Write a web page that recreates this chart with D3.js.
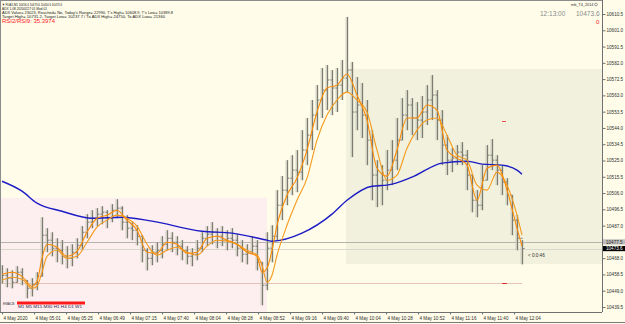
<!DOCTYPE html>
<html>
<head>
<meta charset="utf-8">
<script src="https://cdn.jsdelivr.net/npm/d3@7"></script>
<style>
  html, body { margin: 0; padding: 0; background: #fffdea; }
  svg { display: block; font-family: "Liberation Sans", Arial, sans-serif; }
</style>
</head>
<body>
<div id="chart"></div>
<script>
const width = 625;
const height = 324;

// bar data, one bar per slot
const barHigh = [10463.9,10462.1,10460.9,10463.3,10462.1,10455.1,10456.3,10459.8,10491.9,10485.5,
  10483.1,10479.6,10478.5,10475.0,10476.1,10479.6,10486.7,10493.7,10496.0,10497.2,
  10498.3,10496.0,10499.5,10502.4,10498.3,10493.1,10489.0,10487.2,10481.4,10473.8,
  10475.5,10477.3,10480.8,10484.3,10483.1,10480.8,10478.5,10475.0,10473.8,10478.5,
  10483.1,10486.7,10489.0,10485.5,10486.7,10484.3,10485.5,10482.0,10478.5,10476.1,
  10480.8,10478.5,10465.6,10483.1,10487.2,10507.7,10515.9,10525.2,10528.1,10531.1,
  10542.7,10549.8,10560.3,10569.0,10579.0,10580.7,10577.8,10579.0,10583.6,10608.8,
  10582.5,10573.7,10570.2,10560.3,10542.7,10525.2,10522.3,10531.1,10536.9,10549.8,
  10561.4,10566.1,10561.4,10559.1,10562.6,10569.0,10574.9,10566.1,10554.4,10539.8,
  10532.2,10534.0,10535.7,10531.1,10516.5,10507.7,10522.3,10534.0,10537.5,10528.1,
  10522.3,10514.7,10504.8,10493.1,10478.5];
const barLow = [10453.3,10451.0,10450.4,10453.9,10452.2,10444.6,10445.7,10449.3,10457.4,10471.5,
  10469.1,10465.6,10464.4,10462.1,10463.3,10467.9,10472.6,10479.6,10485.5,10486.7,
  10487.8,10485.5,10489.0,10491.3,10484.3,10479.6,10478.5,10475.5,10465.6,10460.9,
  10463.9,10465.6,10467.9,10472.6,10471.5,10469.7,10466.8,10464.4,10463.3,10466.8,
  10471.5,10475.0,10476.1,10473.8,10475.0,10472.6,10473.8,10469.1,10465.6,10464.4,
  10470.3,10460.9,10440.5,10449.3,10465.6,10478.5,10490.2,10498.9,10504.8,10506.5,
  10513.5,10522.3,10531.1,10542.7,10549.8,10554.4,10551.5,10553.3,10560.3,10564.9,
  10527.0,10542.7,10538.1,10522.3,10501.8,10497.8,10498.9,10507.7,10510.6,10519.4,
  10536.9,10542.7,10539.8,10536.9,10538.1,10545.7,10548.6,10536.9,10522.3,10516.5,
  10518.2,10522.3,10522.3,10507.7,10494.8,10491.9,10496.0,10513.5,10519.4,10510.6,
  10504.8,10498.9,10481.4,10472.6,10464.4];
const barClose = [10458.0,10456.3,10453.9,10459.8,10455.1,10450.4,10452.8,10457.4,10481.4,10478.5,
  10473.8,10472.6,10469.1,10467.9,10471.5,10475.5,10483.1,10489.0,10491.3,10493.7,
  10494.8,10491.3,10496.0,10497.2,10489.0,10485.5,10484.3,10480.8,10472.6,10467.9,
  10471.5,10472.6,10476.1,10479.6,10477.3,10475.0,10472.6,10469.1,10470.3,10473.8,
  10479.6,10482.0,10483.1,10480.8,10478.5,10479.6,10478.5,10473.8,10470.3,10471.5,
  10475.0,10465.6,10452.2,10473.8,10480.8,10498.9,10507.7,10514.7,10519.4,10518.2,
  10531.1,10539.8,10551.5,10560.3,10566.1,10572.0,10567.3,10569.0,10573.1,10577.8,
  10553.3,10557.4,10551.5,10536.9,10516.5,10510.6,10513.5,10519.4,10525.2,10536.9,
  10551.5,10557.4,10549.8,10548.6,10553.3,10560.3,10563.2,10548.6,10534.0,10525.2,
  10526.4,10529.9,10528.1,10516.5,10501.8,10498.9,10513.5,10528.1,10525.2,10519.4,
  10512.4,10504.8,10490.2,10479.6,10473.6];

// moving averages, read at these bar slots
const emaIdx = [0,2,4,6,7,8,9,11,13,15,17,19,21,23,25,27,29,31,33,35,37,39,41,43,45,47,49,51,52,53,
  54,55,57,59,61,63,65,67,69,71,73,75,77,79,81,83,85,87,89,91,93,95,97,99,101,103,104];
const emaFast = [10458.6,10459.8,10457.4,10451.6,10454.5,10467.9,10476.1,10474.4,10469.1,10472.0,
  10483.1,10491.3,10493.1,10496.0,10490.2,10484.3,10471.5,10470.9,10477.3,10476.1,
  10470.9,10471.5,10479.6,10480.8,10478.5,10476.1,10471.5,10469.1,10459.8,10462.1,
  10472.6,10487.2,10504.8,10514.7,10531.1,10553.3,10567.3,10569.0,10575.5,10563.2,
  10548.6,10520.5,10515.9,10531.1,10549.8,10549.8,10557.4,10554.4,10531.1,10526.4,
  10522.3,10501.8,10520.5,10522.3,10507.7,10485.5,10475.0];
const emaSlow = [10455.1,10456.9,10455.7,10450.4,10451.6,10459.8,10469.1,10472.6,10467.9,10469.1,
  10477.3,10486.1,10490.2,10493.1,10491.3,10486.7,10476.1,10469.7,10472.6,10474.4,
  10471.5,10469.7,10475.0,10478.5,10477.9,10476.1,10472.6,10469.7,10463.9,10453.9,
  10458.0,10469.7,10487.2,10501.8,10514.7,10536.9,10551.5,10560.3,10564.9,10560.3,
  10553.3,10531.1,10513.5,10516.5,10532.2,10542.7,10548.6,10549.8,10539.8,10528.1,
  10525.2,10510.6,10507.7,10518.2,10510.6,10493.1,10481.4];

const maIdx = [0,4,7,12,18,24,30,40,46,53,54,60,66,69,74,77,82,88,93,96,100,103,104];
const maSlow = [10512.9,10507.1,10500.1,10495.4,10491.3,10491.9,10489.6,10483.7,10482.6,10478.5,
  10477.9,10482.6,10493.7,10501.8,10510.0,10510.6,10515.3,10523.5,10524.6,10522.9,
  10522.3,10519.4,10517.0];

// price axis
const priceTicks = [10610.5,10601.0,10591.5,10582.0,10572.5,10563.0,10553.5,10544.0,10534.5,10525.0,
  10515.5,10506.0,10496.5,10487.0,10468.0,10458.5,10449.0,10439.5];
const bidPrice = 10477.5;
const lastPrice = 10473.6;
const lowLine = 10453.3;

// time axis
const timeIdx = [0,6.4,12.8,19.2,25.6,32,38.4,44.8,51.2,57.6,64,70.4,76.8,83.2,89.6,96,102.4];
const timeLabels = ['4 May 2020','4 May 05:01','4 May 05:25','4 May 06:49','4 May 07:15','4 May 07:40',
  '4 May 08:04','4 May 08:28','4 May 08:52','4 May 09:16','4 May 09:40','4 May 10:04','4 May 10:28',
  '4 May 10:52','4 May 11:16','4 May 11:40','4 May 12:04'];

const infoLines = [
  '\u25BC FDAX,M1  10456.4 10473.6 10454.6 10473.6',
  'ADX 1.08 20200227 01 Mod 01',
  "ADX Value= 23023, Reached= No, Today's Range= 22990, T's High= 10608.9, T's Low= 10389.8",
  'Target High= 10731.2, Target Low= 10237.7 / To ADX High= 24750, To ADX Low= 21360'
];
const infoWidths = [60, 45, 171, 163];

const plotRight = 602;
const plotBottom = 312;

const x = d3.scaleLinear().domain([0, 104]).range([2, 522]);
const y = d3.scaleLinear().domain([10439.5, 10610.5]).range([307, 14]);

const svg = d3.select('#chart').append('svg')
  .attr('width', width)
  .attr('height', height);

svg.append('rect')
  .attr('width', width).attr('height', height)
  .attr('fill', '#fffdea');

// zones
svg.append('rect')
  .attr('x', 0).attr('y', 198)
  .attr('width', 267).attr('height', plotBottom - 198)
  .attr('fill', '#fdeef0');

svg.append('rect')
  .attr('x', 346).attr('y', 69)
  .attr('width', plotRight - 346).attr('height', 264 - 69)
  .attr('fill', '#f1f1dd');

// horizontal levels
svg.append('line')
  .attr('x1', 0).attr('x2', plotRight)
  .attr('y1', Math.round(y(bidPrice)) + 0.5).attr('y2', Math.round(y(bidPrice)) + 0.5)
  .attr('stroke', '#b4b4aa');

svg.append('line')
  .attr('x1', 0).attr('x2', plotRight)
  .attr('y1', Math.round(y(lastPrice)) + 0.5).attr('y2', Math.round(y(lastPrice)) + 0.5)
  .attr('stroke', '#d8d8cc');

svg.append('line')
  .attr('x1', 0).attr('x2', x(104))
  .attr('y1', Math.round(y(lowLine)) + 0.5).attr('y2', Math.round(y(lowLine)) + 0.5)
  .attr('stroke', '#e6c3b4');

// red marks
svg.append('line').attr('x1', 502).attr('x2', 506).attr('y1', 121.5).attr('y2', 121.5)
  .attr('stroke', '#f05050');
svg.append('line').attr('x1', 502).attr('x2', 507).attr('y1', Math.round(y(lowLine)) + 0.5)
  .attr('y2', Math.round(y(lowLine)) + 0.5).attr('stroke', '#e03030');

// bars
const bars = svg.append('g');
const idx = d3.range(barHigh.length);

bars.selectAll('.bar-body')
  .data(idx)
  .join('rect')
  .attr('class', 'bar-body')
  .attr('x', i => x(i) - 1.5)
  .attr('width', 3)
  .attr('y', i => y(barHigh[i]))
  .attr('height', i => y(barLow[i]) - y(barHigh[i]))
  .attr('fill', '#c4c4b6')
  .attr('opacity', 0.75);

bars.selectAll('.bar-line')
  .data(idx)
  .join('line')
  .attr('class', 'bar-line')
  .attr('x1', i => Math.round(x(i)) + 0.5)
  .attr('x2', i => Math.round(x(i)) + 0.5)
  .attr('y1', i => y(barHigh[i]))
  .attr('y2', i => y(barLow[i]))
  .attr('stroke', '#7c7c72');

bars.selectAll('.bar-open')
  .data(idx.slice(1))
  .join('line')
  .attr('class', 'bar-open')
  .attr('x1', i => Math.round(x(i)) - 1.5)
  .attr('x2', i => Math.round(x(i)) + 0.5)
  .attr('y1', i => y(barClose[i - 1]))
  .attr('y2', i => y(barClose[i - 1]))
  .attr('stroke', '#7c7c72');

bars.selectAll('.bar-close')
  .data(idx)
  .join('line')
  .attr('class', 'bar-close')
  .attr('x1', i => Math.round(x(i)) + 0.5)
  .attr('x2', i => Math.round(x(i)) + 2.5)
  .attr('y1', i => y(barClose[i]))
  .attr('y2', i => y(barClose[i]))
  .attr('stroke', '#7c7c72');

// moving averages
const lineOf = (ix, vals) => d3.line()
  .curve(d3.curveMonotoneX)
  .x((d, k) => x(ix[k]))
  .y(d => y(d))(vals);

svg.append('path')
  .attr('d', lineOf(maIdx, maSlow))
  .attr('fill', 'none')
  .attr('stroke', '#1c1cc4')
  .attr('stroke-width', 1.4);

svg.append('path')
  .attr('d', lineOf(emaIdx, emaSlow))
  .attr('fill', 'none')
  .attr('stroke', '#f59a1a')
  .attr('stroke-width', 1.1);

svg.append('path')
  .attr('d', lineOf(emaIdx, emaFast))
  .attr('fill', 'none')
  .attr('stroke', '#ff8c00')
  .attr('stroke-width', 1.1);

// frame
svg.append('line').attr('x1', 0).attr('x2', plotRight).attr('y1', 0.5).attr('y2', 0.5)
  .attr('stroke', '#8c8c8c');
svg.append('line').attr('x1', 0.5).attr('x2', 0.5).attr('y1', 0).attr('y2', plotBottom)
  .attr('stroke', '#8c8c8c');
svg.append('line').attr('x1', 0).attr('x2', width).attr('y1', 322.5).attr('y2', 322.5)
  .attr('stroke', '#7a7a7a');

// price axis
const yAxis = svg.append('g')
  .attr('transform', `translate(${plotRight + 0.5},0)`)
  .call(d3.axisRight(y).tickValues(priceTicks).tickSize(3).tickPadding(1)
    .tickFormat(d3.format('.1f')));
yAxis.select('.domain').attr('stroke', '#707070').attr('d', `M0,0V${plotBottom}`);
yAxis.selectAll('.tick line').attr('stroke', '#707070');
yAxis.selectAll('text')
  .attr('font-size', 4.6)
  .attr('fill', '#303030')
  .attr('font-family', '"Liberation Sans", Arial, sans-serif');

// price tags
const tag = (price, bg, fg) => {
  const yy = y(price);
  svg.append('rect')
    .attr('x', plotRight + 1).attr('y', yy - 2.6)
    .attr('width', width - plotRight - 1).attr('height', 5.2)
    .attr('fill', bg);
  svg.append('text')
    .attr('x', plotRight + 4).attr('y', yy + 1.7)
    .attr('font-size', 4.6)
    .attr('fill', fg)
    .text(d3.format('.1f')(price));
};
tag(bidPrice, '#bdbdbd', '#303030');
tag(lastPrice, '#000000', '#ffffff');

// time axis
svg.append('line').attr('x1', 0).attr('x2', plotRight).attr('y1', plotBottom + 0.5).attr('y2', plotBottom + 0.5)
  .attr('stroke', '#707070');
const xAxis = svg.append('g')
  .attr('transform', `translate(0,${plotBottom + 0.5})`)
  .call(d3.axisBottom(x).tickValues(timeIdx).tickSize(2).tickPadding(2)
    .tickFormat((d, i) => timeLabels[i]));
xAxis.select('.domain').remove();
xAxis.selectAll('.tick line').attr('stroke', '#707070');
xAxis.selectAll('text')
  .attr('text-anchor', 'start')
  .attr('x', 1)
  .attr('font-size', 4.6)
  .attr('fill', '#303030')
  .attr('font-family', '"Liberation Sans", Arial, sans-serif');

// info text
svg.selectAll('.info')
  .data(infoLines)
  .join('text')
  .attr('class', 'info')
  .attr('x', 2)
  .attr('y', (d, i) => 5.5 + i * 4)
  .attr('font-size', 3.8)
  .attr('fill', '#202020')
  .attr('textLength', (d, i) => infoWidths[i])
  .attr('lengthAdjust', 'spacingAndGlyphs')
  .text(d => d);

svg.append('text')
  .attr('x', 2).attr('y', 23)
  .attr('font-size', 6)
  .attr('fill', '#ff2020')
  .attr('textLength', 53)
  .attr('lengthAdjust', 'spacingAndGlyphs')
  .text('RSI2/RSI9: 35.3974');

// top right
svg.append('text')
  .attr('x', 571).attr('y', 6)
  .attr('font-size', 3.8)
  .attr('fill', '#303030')
  .text('mb_T4_2014');
svg.append('circle')
  .attr('cx', 596).attr('cy', 4.5).attr('r', 1.4)
  .attr('fill', 'none').attr('stroke', '#606060').attr('stroke-width', 0.6);
svg.append('text')
  .attr('x', 540).attr('y', 15.5)
  .attr('font-size', 6.5)
  .attr('fill', '#8a8a8a')
  .text('12:13:00');
svg.append('text')
  .attr('x', 576).attr('y', 15.5)
  .attr('font-size', 6.5)
  .attr('fill', '#8a8a8a')
  .text('10473.6');
svg.append('text')
  .attr('x', 596).attr('y', 23.5)
  .attr('font-size', 6)
  .attr('fill', '#ff2020')
  .text('0');

// countdown
svg.append('text')
  .attr('x', 528).attr('y', 256.5)
  .attr('font-size', 4.6)
  .attr('fill', '#303030')
  .text('< 0:0:46');

// timeframe widget
svg.append('text')
  .attr('x', 3).attr('y', 304.5)
  .attr('font-size', 3.2)
  .attr('fill', '#303030')
  .text('EMACB');
svg.append('rect')
  .attr('x', 17).attr('y', 301.5)
  .attr('width', 68).attr('height', 3)
  .attr('fill', '#ff1a1a');
svg.append('text')
  .attr('x', 18).attr('y', 308)
  .attr('font-size', 3.4)
  .attr('fill', '#202040')
  .attr('textLength', 64)
  .attr('lengthAdjust', 'spacingAndGlyphs')
  .text('M1  M5  M15  M30  H1  H4  D1  W1');
</script>
</body>
</html>
